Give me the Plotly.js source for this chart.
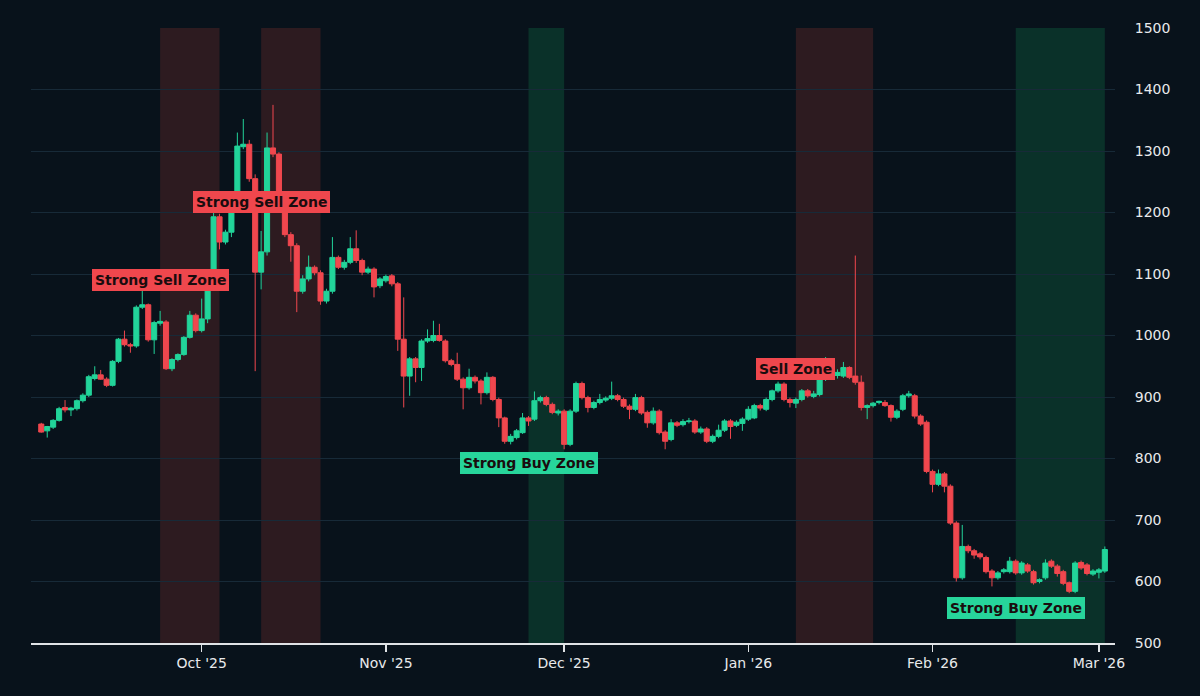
<!DOCTYPE html>
<html>
<head>
<meta charset="utf-8">
<script src="https://cdn.plot.ly/plotly-3.0.1.min.js"></script>
<style>
html,body{margin:0;padding:0;background:#08121b;}
#chart{width:1200px;height:696px;}
</style>
</head>
<body>
<div id="chart"></div>
<script>
// ---- data (daily candles) ----
const dates = [
 '2025-09-04','2025-09-05','2025-09-06','2025-09-07','2025-09-08','2025-09-09','2025-09-10','2025-09-11','2025-09-12','2025-09-13',
 '2025-09-14','2025-09-15','2025-09-16','2025-09-17','2025-09-18','2025-09-19','2025-09-20','2025-09-21','2025-09-22','2025-09-23',
 '2025-09-24','2025-09-25','2025-09-26','2025-09-27','2025-09-28','2025-09-29','2025-09-30',
 '2025-10-01','2025-10-02','2025-10-03','2025-10-04','2025-10-05','2025-10-06','2025-10-07','2025-10-08','2025-10-09','2025-10-10',
 '2025-10-11','2025-10-12','2025-10-13','2025-10-14','2025-10-15','2025-10-16','2025-10-17','2025-10-18','2025-10-19','2025-10-20',
 '2025-10-21','2025-10-22','2025-10-23','2025-10-24','2025-10-25','2025-10-26','2025-10-27','2025-10-28','2025-10-29','2025-10-30','2025-10-31',
 '2025-11-01','2025-11-02','2025-11-03','2025-11-04','2025-11-05','2025-11-06','2025-11-07','2025-11-08','2025-11-09','2025-11-10',
 '2025-11-11','2025-11-12','2025-11-13','2025-11-14','2025-11-15','2025-11-16','2025-11-17','2025-11-18','2025-11-19','2025-11-20',
 '2025-11-21','2025-11-22','2025-11-23','2025-11-24','2025-11-25','2025-11-26','2025-11-27','2025-11-28','2025-11-29','2025-11-30',
 '2025-12-01','2025-12-02','2025-12-03','2025-12-04','2025-12-05','2025-12-06','2025-12-07','2025-12-08','2025-12-09','2025-12-10',
 '2025-12-11','2025-12-12','2025-12-13','2025-12-14','2025-12-15','2025-12-16','2025-12-17','2025-12-18','2025-12-19','2025-12-20',
 '2025-12-21','2025-12-22','2025-12-23','2025-12-24','2025-12-25','2025-12-26','2025-12-27','2025-12-28','2025-12-29','2025-12-30','2025-12-31',
 '2026-01-01','2026-01-02','2026-01-03','2026-01-04','2026-01-05','2026-01-06','2026-01-07','2026-01-08','2026-01-09','2026-01-10',
 '2026-01-11','2026-01-12','2026-01-13','2026-01-14','2026-01-15','2026-01-16','2026-01-17','2026-01-18','2026-01-19','2026-01-20',
 '2026-01-21','2026-01-22','2026-01-23','2026-01-24','2026-01-25','2026-01-26','2026-01-27','2026-01-28','2026-01-29','2026-01-30','2026-01-31',
 '2026-02-01','2026-02-02','2026-02-03','2026-02-04','2026-02-05','2026-02-06','2026-02-07','2026-02-08','2026-02-09','2026-02-10',
 '2026-02-11','2026-02-12','2026-02-13','2026-02-14','2026-02-15','2026-02-16','2026-02-17','2026-02-18','2026-02-19','2026-02-20',
 '2026-02-21','2026-02-22','2026-02-23','2026-02-24','2026-02-25','2026-02-26','2026-02-27','2026-02-28',
 '2026-03-01','2026-03-02'
];
const opens = [
 856,845,851,862,883,879,881,894,903,930,936,929,919,958,994,985,983,1046,1050,993,1020,1022,946,961,969,997,1033,
 1008,1027,1090,1193,1152,1168,1212,1307,1311,1255,1103,1136,1305,1295,1212,1164,1146,1072,1092,1111,1102,1056,1072,1127,1111,1119,1141,1122,1103,1108,1081,
 1089,1097,1084,994,934,962,948,991,992,1000,991,959,953,929,915,932,926,907,932,896,866,828,834,842,866,864,894,899,888,874,
 877,823,877,922,899,883,891,895,898,902,896,885,880,899,875,858,877,843,831,858,855,860,861,843,848,828,836,846,861,854,857,
 864,866,886,880,896,910,921,896,890,896,910,901,904,929,948,935,934,948,934,924,883,886,891,891,886,867,880,902,902,869,859,
 779,758,775,755,695,606,657,650,645,639,617,606,616,616,633,614,627,616,600,606,633,625,616,598,584,631,627,612,
 615,617
];
const highs = [
 858,853,864,884,895,884,896,906,936,950,944,932,960,996,1008,988,1049,1075,1052,1024,1040,1025,963,971,999,1040,1036,
 1060,1095,1200,1198,1172,1225,1330,1352,1318,1262,1170,1330,1375,1298,1215,1168,1150,1098,1130,1114,1106,1076,1160,1130,1123,1160,1171,1125,1112,1111,1095,
 1099,1100,1087,1062,965,965,994,1010,1024,1019,994,962,972,932,946,935,929,940,934,899,868,840,848,874,869,909,902,902,891,880,
 880,880,925,925,902,894,905,901,925,905,899,888,905,902,878,883,880,846,864,861,864,866,864,852,851,839,855,864,864,862,867,
 885,889,889,899,912,925,924,899,899,913,913,910,932,965,952,945,957,950,1130,935,888,892,894,895,888,880,905,910,905,872,862,
 782,782,778,758,698,692,660,653,648,642,620,617,622,640,636,633,630,619,605,636,636,628,619,600,633,634,630,620,
 622,657
];
const lows = [
 842,834,848,860,875,869,878,891,900,927,928,916,917,955,982,972,980,1043,990,970,1016,944,942,958,967,995,1005,
 1005,1020,1085,1140,1148,1160,1208,1303,1250,942,1075,1130,1290,1205,1160,1120,1038,1068,1088,1098,1050,1052,1068,1108,1107,1116,1118,1098,1100,1062,1077,
 1086,1080,975,883,902,924,926,988,989,990,956,950,926,880,912,922,888,904,893,851,824,823,831,840,853,861,891,885,872,870,
 815,820,874,896,875,880,888,892,895,893,882,864,877,871,850,855,839,815,828,851,852,857,840,840,825,825,833,843,832,851,845,
 861,864,878,877,893,907,893,883,882,893,899,898,901,926,936,930,931,929,920,878,864,883,888,884,860,864,877,899,865,853,776,
 745,755,745,692,600,603,646,637,636,613,592,603,613,613,611,611,614,595,597,603,622,608,594,581,581,619,610,609,
 605,614
];
const closes = [
 843,852,862,881,879,882,894,903,933,936,929,919,958,994,985,983,1046,1050,993,1021,1023,946,961,969,997,1033,1008,
 1027,1090,1193,1152,1168,1212,1308,1311,1255,1103,1136,1305,1295,1212,1164,1146,1072,1092,1111,1102,1056,1072,1127,1111,1119,1141,1122,1103,1108,1079,1092,
 1096,1084,994,934,962,948,991,995,1000,992,959,953,929,915,932,926,907,932,896,866,828,836,845,866,861,894,899,888,875,877,
 823,877,922,899,883,891,896,898,902,896,885,880,899,874,858,877,842,828,858,854,860,861,843,848,828,836,846,861,852,859,864,
 880,886,882,896,910,921,896,891,896,910,902,905,929,948,940,940,948,932,924,883,886,890,893,886,867,877,902,905,869,856,779,
 758,775,755,695,606,657,650,643,640,616,606,614,619,633,614,630,617,598,603,630,625,613,597,584,630,622,613,617,
 619,652
];

// ---- zones ----
const zoneStart = ['2025-09-24','2025-10-11','2025-11-25','2026-01-09','2026-02-15'];
const zoneEnd   = ['2025-10-04','2025-10-21','2025-12-01','2026-01-22','2026-03-02'];
const zoneKind  = ['sell','sell','buy','sell','buy'];

// ---- labels ----
const labelText  = ['Strong Sell Zone','Strong Sell Zone','Strong Buy Zone','Sell Zone','Strong Buy Zone'];
const labelDate  = ['2025-09-24','2025-10-11','2025-11-25','2026-01-09','2026-02-15'];
const labelValue = [1090,1217,793,946,557];
const labelKind  = ['sell','sell','buy','sell','buy'];

// ---- axis ----
const yTicks = [500,600,700,800,900,1000,1100,1200,1300,1400,1500];

// ---- styles ----
const FONT = '"DejaVu Sans", Verdana, sans-serif';
const UP = '#22d49a';
const DOWN = '#f0474e';
const BG = '#08121b';
const ZONE_FILL = {sell:'#2d1b20', buy:'#0a3129'};
const LABEL_BG = {sell:'#ef474d', buy:'#27d59b'};

const trace = {
  type:'candlestick',
  x: dates, open: opens, high: highs, low: lows, close: closes,
  increasing:{line:{color:UP,width:1}, fillcolor:UP},
  decreasing:{line:{color:DOWN,width:1}, fillcolor:DOWN},
  whiskerwidth:0,
  hoverinfo:'none',
  showlegend:false
};

const shapes = zoneStart.map((s,i)=>({
  type:'rect', xref:'x', yref:'paper', x0:s, x1:zoneEnd[i], y0:0, y1:1,
  fillcolor:ZONE_FILL[zoneKind[i]], line:{width:0}, layer:'below'
}));

const annotations = labelText.map((t,i)=>({
  x: labelDate[i], y: labelValue[i], xref:'x', yref:'y',
  text:'<b>'+t+'</b>', showarrow:false,
  bgcolor: LABEL_BG[labelKind[i]], bordercolor: LABEL_BG[labelKind[i]],
  borderwidth:1, borderpad:2,
  font:{family:FONT, size:14, color:'#1a0c0e'}
}));

const layout = {
  width:1200, height:696,
  paper_bgcolor:BG, plot_bgcolor:BG,
  margin:{l:31, r:85, t:28, b:53},
  font:{family:FONT, color:'#e8eaec'},
  boxgap:0.1, boxgroupgap:0.05,
  xaxis:{
    type:'date',
    range:['2025-09-02 06:30','2026-03-03 17:00'],
    rangeslider:{visible:false},
    tick0:'2025-10-01', dtick:'M1', tickformat:"%b '%y",
    ticks:'outside', ticklen:7, tickwidth:1.5, tickcolor:'#e0e3e6',
    showline:true, linecolor:'#e0e3e6', linewidth:1.5,
    showgrid:false, zeroline:false,
    tickfont:{size:14, color:'#e8eaec'}
  },
  yaxis:{
    side:'right',
    range:[500,1500],
    tickvals:yTicks,
    ticks:'outside', ticklen:16, tickcolor:'rgba(0,0,0,0)',
    showgrid:true, gridcolor:'#172a38', gridwidth:1,
    showline:false, zeroline:false,
    tickfont:{size:14, color:'#e8eaec'}
  },
  shapes: shapes,
  annotations: annotations
};

Plotly.newPlot('chart',[trace],layout,{displayModeBar:false,staticPlot:true});
</script>
</body>
</html>
